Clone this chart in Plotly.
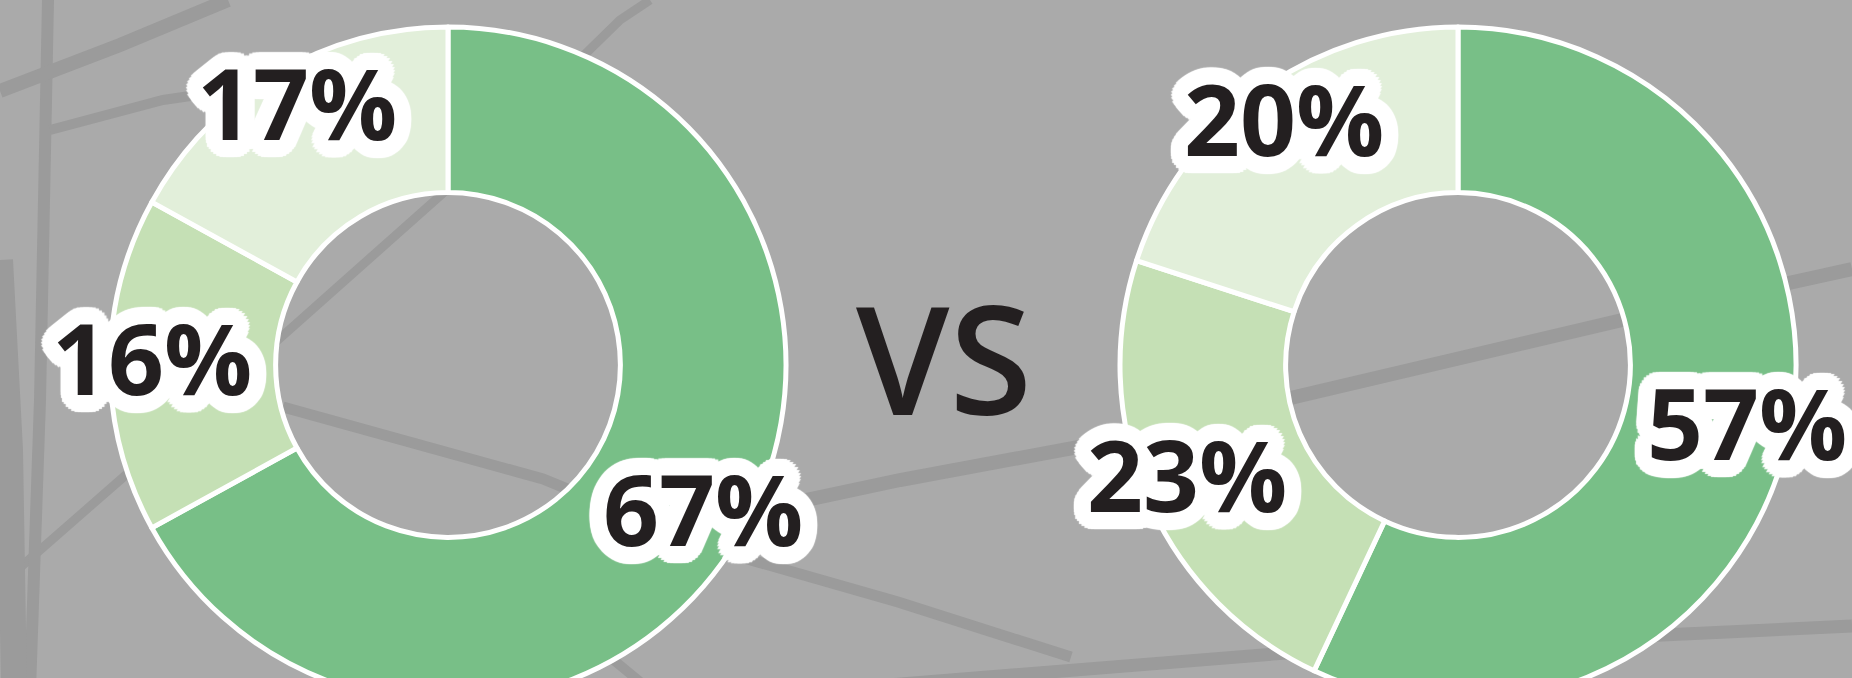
import math
import plotly.graph_objects as go

# ---- data ----
segments = ["A", "B", "C"]
left_values = [67, 16, 17]
right_values = [57, 23, 20]
compare_label = "VS"

# ---- style ----
W, H = 1852, 730
BG = "#aaaaaa"
BRANCH = "#9b9b9b"
COLORS = ["#78bf87", "#c5e0b5", "#e2efda"]
TEXT = "#231f20"
HOLE = 0.51

# pie placement (pixels)
R = 338
left_cx, right_cx, cy = 448, 1458, 365
LABEL_R = 0.875
LABEL_LIFT = 8

# decorative background branches (pixel polylines, width)
background_branches = [
    ([(661, 531), (900, 480), (1122, 439), (1299, 396), (1618, 321), (1852, 269)], 14),
    ([(283, 407), (543, 479), (716, 550), (898, 602), (1071, 657)], 11),
    ([(827, 690), (1299, 652), (1852, 626)], 13),
    ([(0, 585), (135, 467), (441, 195), (620, 20), (650, 0)], 9),
    ([(48, 0), (45, 150), (40, 400), (30, 690)], 12),
    ([(0, 260), (10, 450), (14, 690)], 26),
    ([(0, 91), (120, 45), (228, 0)], 14),
    ([(50, 130), (163, 100), (300, 80)], 10),
    ([(593, 643), (650, 690)], 10),
]


def domain_x(cx):
    return [(cx - R) / W, (cx + R) / W]


def outline(radii=(17, 13, 9, 5), n=32):
    parts = []
    for r in radii:
        for k in range(n):
            a = 2 * math.pi * k / n
            parts.append(f"white {r*math.cos(a):.1f}px {r*math.sin(a):.1f}px 1px")
    return ", ".join(parts)


SHADOW = outline()

fig = go.Figure()
for vals, cx in [(left_values, left_cx), (right_values, right_cx)]:
    fig.add_trace(go.Pie(
        labels=segments, values=vals, hole=HOLE, sort=False,
        direction="clockwise", rotation=0,
        marker=dict(colors=COLORS, line=dict(color="white", width=5)),
        textinfo="none", hoverinfo="skip", showlegend=False,
        domain=dict(x=domain_x(cx), y=[0, 1]),
    ))

annotations = []
for vals, cx in [(left_values, left_cx), (right_values, right_cx)]:
    total = sum(vals)
    cum = 0
    for v in vals:
        mid = (cum + v / 2) / total * 2 * math.pi
        cum += v
        rr = LABEL_R * R
        px = cx + rr * math.sin(mid)
        py = cy - rr * math.cos(mid) - LABEL_LIFT
        annotations.append(dict(
            x=px / W, y=1 - py / H, xref="paper", yref="paper",
            text=f"{round(v / total * 100)}%", showarrow=False,
            xanchor="center", yanchor="middle",
            font=dict(family="Open Sans", size=98, color=TEXT, weight=700,
                      shadow=SHADOW),
        ))

annotations.append(dict(
    x=944 / W, y=1 - 357 / H, xref="paper", yref="paper",
    text=compare_label, showarrow=False, xanchor="center", yanchor="middle",
    font=dict(family="Open Sans", size=150, color=TEXT, weight=600),
))

shapes = []
for pts, w in background_branches:
    path = "M " + " L ".join(f"{x / W:.5f},{1 - y / H:.5f}" for x, y in pts)
    shapes.append(dict(type="path", path=path, xref="paper", yref="paper",
                       line=dict(color=BRANCH, width=w), layer="below"))

fig.update_layout(
    width=W, height=H,
    margin=dict(l=0, r=0, t=0, b=0),
    paper_bgcolor=BG, plot_bgcolor=BG,
    annotations=annotations,
    shapes=shapes,
)

fig.write_html("out.html", post_script="document.body.style.overflow='hidden';document.documentElement.style.overflow='hidden';")
